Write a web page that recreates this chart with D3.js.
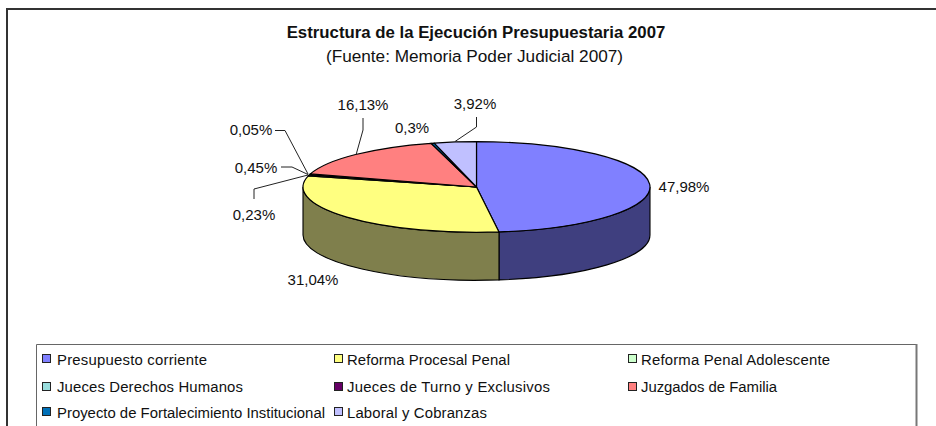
<!DOCTYPE html>
<html><head><meta charset="utf-8">
<script src="https://cdn.jsdelivr.net/npm/d3@7"></script>
<style>html,body{margin:0;padding:0;background:#fff}svg{display:block}text{font-family:"Liberation Sans",Arial,sans-serif;fill:#111}</style>
</head><body><div id="c"></div>
<script>
const categories = ["Presupuesto corriente","Reforma Procesal Penal","Reforma Penal Adolescente","Jueces Derechos Humanos","Jueces de Turno y Exclusivos","Juzgados de Familia","Proyecto de Fortalecimiento Institucional","Laboral y Cobranzas"];
const values = [47.98,31.04,0.23,0.45,0.05,16.13,0.3,3.92];
const valueLabels = ["47,98%","31,04%","0,23%","0,45%","0,05%","16,13%","0,3%","3,92%"];
const colors = ["#8080FF","#FFFF80","#CCFFCC","#99DDDD","#660066","#FF8080","#0070B8","#C0C0FF"];
const sideColors = ["#3F3F7F","#7F7F4C"];
const titleText = "Estructura de la Ejecución Presupuestaria 2007";
const subtitleText = "(Fuente: Memoria Poder Judicial 2007)";

// layout only
const W=936,H=426,cx=476.5,cy=187,rx=173.5,ry=45.3,depth=48,R=100;
const labelPos=[[684,192],[313,285],[254,220],[256,173],[251,135],[363,110],[412,133],[475,109]];
const leaders=[null,null,
 [[254,199],[254,189],[308,175]],
 [[281,167],[292,167],[308,174.5]],
 [[275,130.5],[285,130.5],[308,174]],
 [[363,118],[363,130],[356,155]],
 null,
 [[476.5,117],[476.5,127],[455,141.5]]];
const legCols=[42,334,628],legRows=[354,382,407],legBase=[365,392,418];
const legWidths=[150,163,189,186,203,136,268,140];

const svg=d3.select("#c").append("svg").attr("width",W).attr("height",H);
svg.append("rect").attr("width",W).attr("height",H).attr("fill","#fff");
// chart frame, runs off the right and bottom of the picture
svg.append("path").attr("d",`M7 ${H+2}V9H${W+2}`).attr("fill","none").attr("stroke","#333").attr("stroke-width",2);
svg.append("text").attr("x",476).attr("y",38).attr("text-anchor","middle").attr("font-size",16.8).attr("font-weight","bold").text(titleText);
svg.append("text").attr("x",474.5).attr("y",62).attr("text-anchor","middle").attr("font-size",17.2).text(subtitleText);

const arcs=d3.pie().sort(null).value(d=>d)(values);
const g=svg.append("g").attr("transform",`translate(${cx},${cy}) scale(${rx/R},${ry/R})`);
const dy=depth*R/ry, HALF=Math.PI/2;
// visible walls of the first two slices (front half of the ellipse)
[0,1].forEach(i=>{
  const a0=Math.max(arcs[i].startAngle,HALF)-HALF, a1=Math.min(arcs[i].endAngle,3*HALF)-HALF;
  const p=d3.path();
  p.arc(0,0,R,a0,a1,false);
  p.arc(0,dy,R,a1,a0,true);
  p.closePath();
  g.append("path").attr("d",p.toString()).attr("fill",sideColors[i]).attr("stroke","#000").attr("stroke-width",1.1).attr("vector-effect","non-scaling-stroke");
});
const arc=d3.arc().innerRadius(0).outerRadius(R);
g.selectAll("path.top").data(arcs).join("path").attr("class","top").attr("d",arc)
 .attr("fill",(d,i)=>colors[i]).attr("stroke","#000").attr("stroke-width",1.2).attr("stroke-linejoin","round").attr("vector-effect","non-scaling-stroke");

const line=d3.line();
leaders.forEach(l=>{ if(l) svg.append("path").attr("d",line(l)).attr("fill","none").attr("stroke","#222").attr("stroke-width",1); });
valueLabels.forEach((t,i)=>svg.append("text").attr("x",labelPos[i][0]).attr("y",labelPos[i][1]).attr("text-anchor","middle").attr("font-size",15).text(t));

// legend box, runs off the bottom
svg.append("path").attr("d",`M36.5 ${H+2}V344.5H916.5V${H+2}`).attr("fill","none").attr("stroke","#666").attr("stroke-width",1);
svg.append("path").attr("d",`M916.5 344V${H+2}`).attr("fill","none").attr("stroke","#777").attr("stroke-width",2);
categories.forEach((c,i)=>{
  const col=i%3,row=Math.floor(i/3),x=legCols[col],y=legRows[row];
  svg.append("rect").attr("x",x+.5).attr("y",y+.5).attr("width",8).attr("height",8).attr("fill",colors[i]).attr("stroke","#222");
  svg.append("text").attr("x",x+(col===0?15:13)).attr("y",legBase[row]).attr("font-size",14.9)
    .attr("textLength",legWidths[i]).attr("lengthAdjust","spacing").text(c);
});
</script></body></html>
